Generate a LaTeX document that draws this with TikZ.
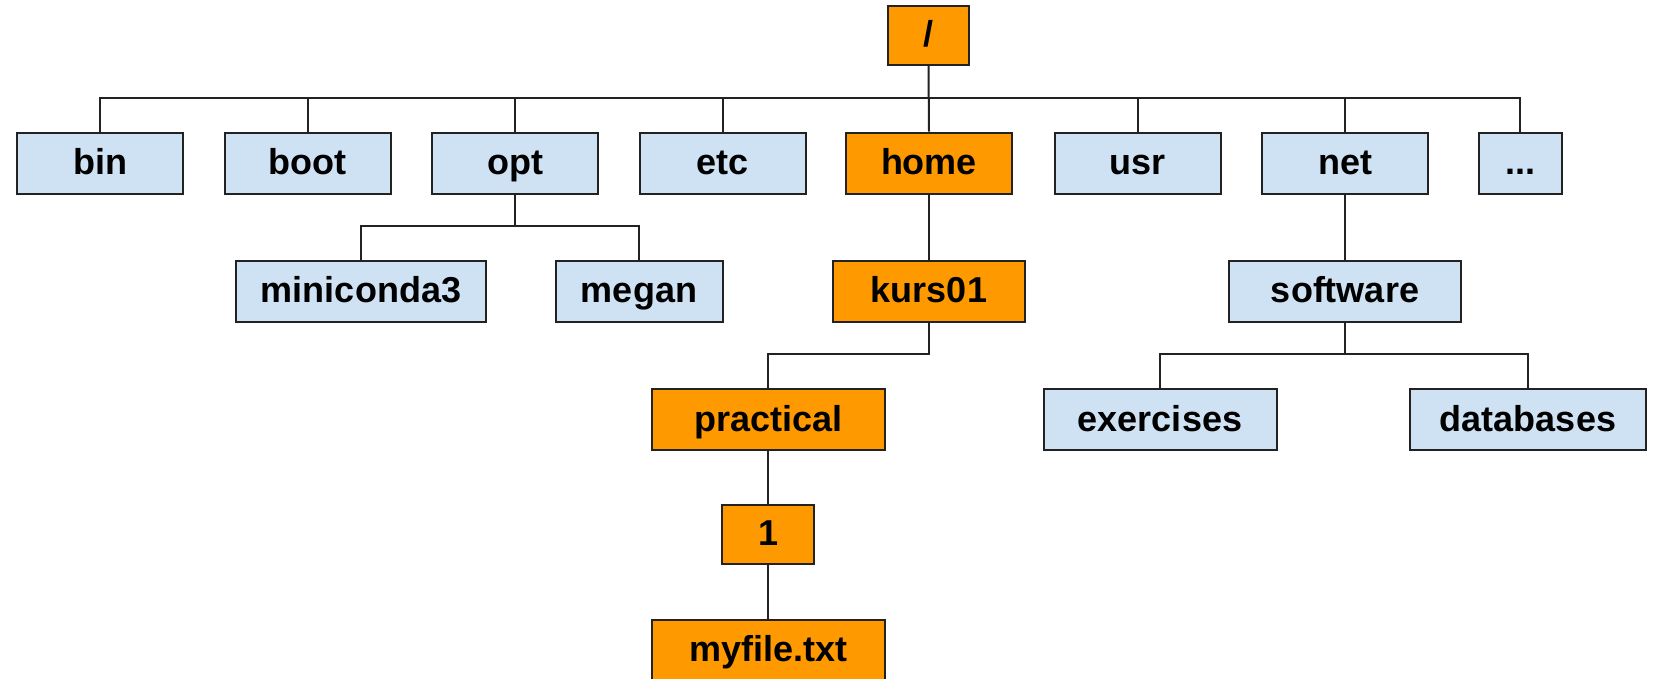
\documentclass[tikz,border=0pt]{standalone}
\usepackage{fontspec}
\setmainfont{Liberation Sans}
\definecolor{dirblue}{HTML}{CFE2F3}
\definecolor{dirorange}{HTML}{FF9900}
\definecolor{edge}{HTML}{222222}
\tikzset{
  dirbox/.style={draw=edge, line width=2pt, rectangle, inner sep=0pt,
    minimum height=61pt, text height=22.6pt, text depth=0pt,
    font=\fontsize{36}{40}\selectfont\bfseries, anchor=north},
  bluebox/.style={dirbox, fill=dirblue},
  orangebox/.style={dirbox, fill=dirorange},
  conn/.style={draw=edge, line width=2pt}
}
\begin{document}
\begin{tikzpicture}[x=1pt,y=-1pt]
\useasboundingbox (0,0) rectangle (1658,678);
% root
\node[orangebox, minimum width=81pt, minimum height=59pt] (root) at (928.5,5) {/};
% row 1
\node[bluebox, minimum width=166pt] (bin) at (100,131.7) {bin};
\node[bluebox, minimum width=166pt] (boot) at (307.5,131.7) {boot};
\node[bluebox, minimum width=166pt] (opt) at (515,131.7) {opt};
\node[bluebox, minimum width=166pt] (etc) at (722.5,131.7) {etc};
\node[orangebox, minimum width=166pt] (home) at (929,131.7) {home};
\node[bluebox, minimum width=166pt] (usr) at (1137.5,131.7) {usr};
\node[bluebox, minimum width=166pt] (net) at (1345,131.7) {net};
\node[bluebox, minimum width=83pt] (dots) at (1520,131.7) {...};
% row 2
\node[bluebox, minimum width=250pt] (mini) at (361,260) {miniconda3};
\node[bluebox, minimum width=167pt] (megan) at (639,260) {megan};
\node[orangebox, minimum width=192pt] (kurs) at (929,260) {kurs01};
\node[bluebox, minimum width=232pt] (soft) at (1345,260) {software};
% row 3
\node[orangebox, minimum width=233pt] (prac) at (768.4,388.3) {practical};
\node[bluebox, minimum width=233pt] (exer) at (1160,388.3) {exercises};
\node[bluebox, minimum width=236pt] (db) at (1528,388.3) {databases};
% row 4, 5
\node[orangebox, minimum width=92pt, minimum height=59pt] (one) at (768.4,504) {1};
\node[orangebox, minimum width=233pt] (myfile) at (768.4,618.5) {myfile.txt};
% bar coordinates
\coordinate (bar1) at (0,97.7);
\coordinate (bar2) at (0,226.3);
\coordinate (bar3) at (0,354);
% connectors
\draw[conn] (root.south) -- (home.north);
\draw[conn] (bin.north) -- (bin.north |- bar1) -- (dots.north |- bar1) -- (dots.north);
\foreach \n in {boot,opt,etc,usr,net}{
  \draw[conn] (\n.north) -- (\n.north |- bar1);
}
\draw[conn] (opt.south) -- (opt.south |- bar2);
\draw[conn] (mini.north) -- (mini.north |- bar2) -- (megan.north |- bar2) -- (megan.north);
\draw[conn] (home.south) -- (kurs.north);
\draw[conn] (net.south) -- (soft.north);
\draw[conn] (kurs.south) -- (kurs.south |- bar3) -- (prac.north |- bar3) -- (prac.north);
\draw[conn] (soft.south) -- (soft.south |- bar3);
\draw[conn] (exer.north) -- (exer.north |- bar3) -- (db.north |- bar3) -- (db.north);
\draw[conn] (prac.south) -- (one.north);
\draw[conn] (one.south) -- (myfile.north);
\end{tikzpicture}
\end{document}
